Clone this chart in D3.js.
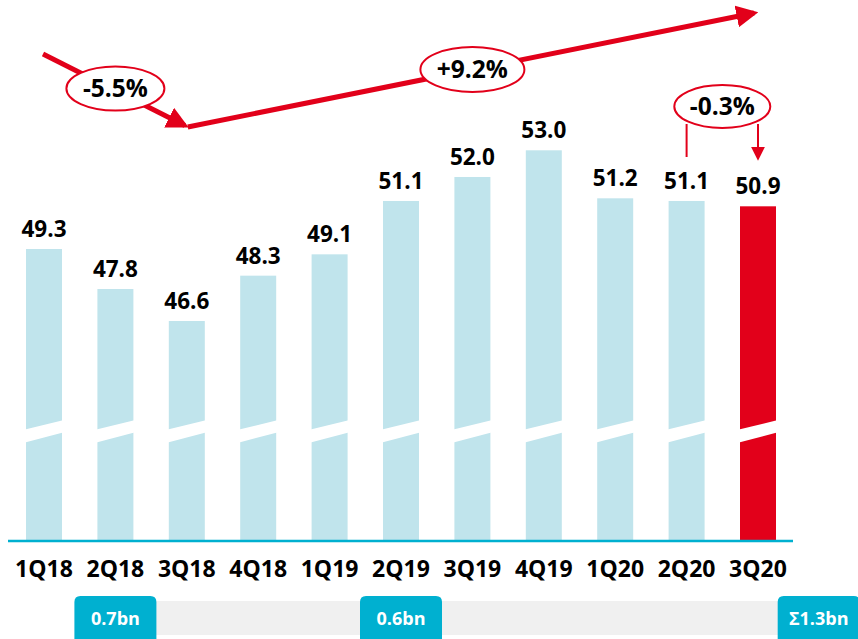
<!DOCTYPE html>
<html lang="en">
<head>
<meta charset="utf-8">
<title>Quarterly chart</title>
<script src="https://d3js.org/d3.v7.min.js"></script>
<style>
  body { margin: 0; background: #fff; }
  svg text { font-family: "Open Sans", "DejaVu Sans", sans-serif; font-weight: bold; }
</style>
</head>
<body>
<script>
// data
var quarters = ["1Q18","2Q18","3Q18","4Q18","1Q19","2Q19","3Q19","4Q19","1Q20","2Q20","3Q20"];
var values = [49.3, 47.8, 46.6, 48.3, 49.1, 51.1, 52.0, 53.0, 51.2, 51.1, 50.9];
var highlight = "3Q20";
var changeLabels = ["-5.5%", "+9.2%", "-0.3%"];
var bottomLabels = ["0.7bn", "0.6bn", "\u03a31.3bn"];
var bottomAt = ["2Q18", "2Q19"];   // last box sits past the end

var W = 858, H = 639;
var red = "#e2001a", light = "#c0e4ec", cyan = "#00b0d0";

var svg = d3.select("body").append("svg")
    .attr("width", W).attr("height", H);

var x = d3.scalePoint().domain(quarters).range([44, 758]);
var y = d3.scaleLinear().domain([38.39, 53.0]).range([540, 150.3]);
var bw = 36;
var base = y(38.39);

// bars
svg.selectAll("rect.bar")
    .data(quarters)
    .enter().append("rect")
    .attr("class", "bar")
    .attr("x", function(d) { return x(d) - bw / 2; })
    .attr("y", function(d, i) { return y(values[i]); })
    .attr("width", bw)
    .attr("height", function(d, i) { return base - y(values[i]); })
    .attr("fill", function(d) { return d == highlight ? red : light; });

// axis break (white slanted gap)
svg.selectAll("path.brk")
    .data(quarters)
    .enter().append("path")
    .attr("class", "brk")
    .attr("d", function(d) {
        var l = x(d) - bw / 2 - 1, r = x(d) + bw / 2 + 1;
        return "M" + l + "," + 429.5 + "L" + r + "," + 420.3 +
               "L" + r + "," + 432.5 + "L" + l + "," + 442.5 + "Z";
    })
    .attr("fill", "#fff");

// baseline
svg.append("line")
    .attr("x1", 8).attr("x2", 793)
    .attr("y1", base + 1).attr("y2", base + 1)
    .attr("stroke", cyan).attr("stroke-width", 2.5);

// value labels
svg.selectAll("text.val")
    .data(quarters)
    .enter().append("text")
    .attr("class", "val")
    .attr("x", function(d) { return x(d); })
    .attr("y", function(d, i) { return y(values[i]) - 12; })
    .attr("text-anchor", "middle")
    .attr("font-size", 22.5)
    .attr("fill", "#000")
    .text(function(d, i) { return values[i].toFixed(1); });

// category labels
svg.selectAll("text.cat")
    .data(quarters)
    .enter().append("text")
    .attr("class", "cat")
    .attr("x", function(d) { return x(d); })
    .attr("y", 577)
    .attr("text-anchor", "middle")
    .attr("font-size", 23)
    .attr("fill", "#000")
    .text(function(d) { return d; });

// bottom band with boxes
var step = x.step();
var bx = bottomAt.map(function(q) { return x(q); });
bx.push(x(quarters[quarters.length - 1]) + step * 0.85);
svg.append("rect")
    .attr("x", bx[0]).attr("y", 601)
    .attr("width", W - bx[0]).attr("height", 34)
    .attr("fill", "#f0f0f0");

function topRound(x0, y0, w, h, r) {
    return "M" + x0 + "," + (y0 + h) + "V" + (y0 + r) +
        "Q" + x0 + "," + y0 + " " + (x0 + r) + "," + y0 +
        "H" + (x0 + w - r) + "Q" + (x0 + w) + "," + y0 + " " + (x0 + w) + "," + (y0 + r) +
        "V" + (y0 + h) + "Z";
}
var boxes = svg.selectAll("g.box")
    .data(bottomLabels)
    .enter().append("g")
    .attr("class", "box");
boxes.append("path")
    .attr("d", function(d, i) { return topRound(bx[i] - 41, 596, 82, 45, 6); })
    .attr("fill", cyan);
boxes.append("text")
    .attr("x", function(d, i) { return bx[i]; })
    .attr("y", 624.5)
    .attr("text-anchor", "middle")
    .attr("font-size", 18)
    .attr("fill", "#fff")
    .text(function(d) { return d; });

// arrowheads
var defs = svg.append("defs");
defs.append("marker")
    .attr("id", "head").attr("viewBox", "0 0 10 10")
    .attr("refX", 8).attr("refY", 5)
    .attr("markerWidth", 4.4).attr("markerHeight", 4.4)
    .attr("markerUnits", "strokeWidth")
    .attr("orient", "auto")
    .append("path").attr("d", "M0,0L10,5L0,10Z").attr("fill", red);
defs.append("marker")
    .attr("id", "headSmall").attr("viewBox", "0 0 10 10")
    .attr("refX", 8).attr("refY", 5)
    .attr("markerWidth", 7).attr("markerHeight", 7)
    .attr("markerUnits", "strokeWidth")
    .attr("orient", "auto")
    .append("path").attr("d", "M0,0L10,5L0,10Z").attr("fill", red);

// trend arrows
var p0 = [x("1Q18") - 1, 54], p1 = [x("3Q18") + 1, 127], p2 = [x("3Q20"), 12];
svg.append("line")
    .attr("x1", p0[0]).attr("y1", p0[1]).attr("x2", p1[0] - 3).attr("y2", p1[1] - 1.5)
    .attr("stroke", red).attr("stroke-width", 5)
    .attr("marker-end", "url(#head)");
svg.append("line")
    .attr("x1", p1[0]).attr("y1", p1[1]).attr("x2", p2[0] - 4).attr("y2", p2[1] + 1)
    .attr("stroke", red).attr("stroke-width", 5)
    .attr("marker-end", "url(#head)");

// bracket for last change
var bTop = 124;
svg.append("line")
    .attr("x1", x("2Q20")).attr("x2", x("2Q20"))
    .attr("y1", bTop).attr("y2", 157)
    .attr("stroke", red).attr("stroke-width", 2);
svg.append("line")
    .attr("x1", x("3Q20")).attr("x2", x("3Q20"))
    .attr("y1", bTop).attr("y2", 158)
    .attr("stroke", red).attr("stroke-width", 2)
    .attr("marker-end", "url(#headSmall)");

// change ellipses
var ell = [
    { cx: x("2Q18"), cy: 88.5, rx: 49, ry: 22 },
    { cx: x("3Q19"), cy: 69.5, rx: 52, ry: 22.5 },
    { cx: (x("2Q20") + x("3Q20")) / 2, cy: 106.5, rx: 48, ry: 21.5 }
];
var eg = svg.selectAll("g.ell")
    .data(changeLabels)
    .enter().append("g").attr("class", "ell");
eg.append("ellipse")
    .attr("cx", function(d, i) { return ell[i].cx; })
    .attr("cy", function(d, i) { return ell[i].cy; })
    .attr("rx", function(d, i) { return ell[i].rx; })
    .attr("ry", function(d, i) { return ell[i].ry; })
    .attr("fill", "#fff").attr("stroke", red).attr("stroke-width", 2);
eg.append("text")
    .attr("x", function(d, i) { return ell[i].cx; })
    .attr("y", function(d, i) { return ell[i].cy + 8.5; })
    .attr("text-anchor", "middle")
    .attr("font-size", 24.5)
    .attr("fill", "#000")
    .text(function(d) { return d; });
</script>
</body>
</html>
